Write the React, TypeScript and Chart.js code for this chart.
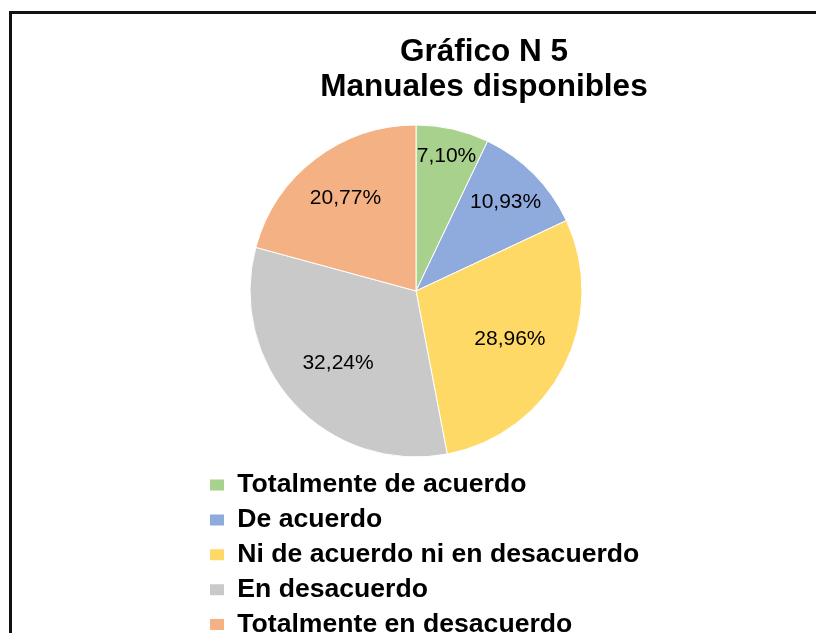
import React, { useEffect, useRef } from 'react';
import { Chart, registerables } from 'chart.js';

Chart.register(...registerables);

const categories = [
  'Totalmente de acuerdo',
  'De acuerdo',
  'Ni de acuerdo ni en desacuerdo',
  'En desacuerdo',
  'Totalmente en desacuerdo',
];
const percentages = [7.1, 10.93, 28.96, 32.24, 20.77];
const sliceColors = ['#A9D18E', '#8FAADC', '#FFD966', '#C9C9C9', '#F4B183'];
const titleLines = ['Gráfico N 5', 'Manuales disponibles'];

// styling: radial position of each value label (fraction of radius)
const labelRadiusFraction = [0.83, 0.76, 0.635, 0.64, 0.7];
const FONT = '"Liberation Sans", Arial, sans-serif';

const sliceLabels = {
  id: 'sliceLabels',
  afterDatasetsDraw(chart: any) {
    const meta = chart.getDatasetMeta(0);
    const ds = chart.data.datasets[0];
    const ctx = chart.ctx;
    ctx.save();
    ctx.font = '21px ' + FONT;
    ctx.fillStyle = '#000';
    ctx.textAlign = 'center';
    ctx.textBaseline = 'middle';
    meta.data.forEach((arc: any, i: number) => {
      const p = arc.getProps(['x', 'y', 'startAngle', 'endAngle', 'outerRadius'], true);
      const mid = (p.startAngle + p.endAngle) / 2;
      const r = p.outerRadius * labelRadiusFraction[i];
      const text = Number(ds.data[i]).toFixed(2).replace('.', ',') + '%';
      ctx.fillText(text, p.x + Math.cos(mid) * r, p.y + Math.sin(mid) * r);
    });
    ctx.restore();
  },
};

const placeBoxes = {
  id: 'placeBoxes',
  afterLayout(chart: any) {
    const t = chart.titleBlock;
    if (t) {
      const w = t.right - t.left;
      const cx = 484;
      t.left = cx - w / 2;
      t.right = cx + w / 2;
    }
    const lg = chart.legend;
    if (lg) {
      lg.left = 201.7;
      lg.top = 463.4;
      lg.width = 560;
      lg.height = 260;
      lg.right = lg.left + lg.width;
      lg.bottom = lg.top + lg.height;
    }
  },
};

export default function App() {
  const ref = useRef<HTMLCanvasElement | null>(null);

  useEffect(() => {
    if (!ref.current) return;
    const chart = new Chart(ref.current, {
      type: 'pie',
      data: {
        labels: categories,
        datasets: [
          {
            data: percentages,
            backgroundColor: sliceColors,
            borderColor: '#ffffff',
            borderWidth: 1,
          },
        ],
      },
      options: {
        responsive: false,
        animation: false,
        events: [],
        devicePixelRatio: 1,
        layout: { padding: { top: 0, left: 216, right: 200, bottom: 175.5 } },
        plugins: {
          tooltip: { enabled: false },
          title: {
            display: true,
            text: titleLines,
            color: '#000',
            font: { family: FONT, size: 31.5, weight: 'bold', lineHeight: 1.095 },
            padding: { top: 35.5, bottom: 20 },
          },
          legend: {
            display: true,
            position: 'chartArea',
            align: 'start',
            labels: {
              color: '#000',
              font: { family: FONT, size: 26.6, weight: 'bold' },
              boxWidth: 14,
              boxHeight: 11,
              padding: 8.3,
              generateLabels: (c: any) =>
                (Chart as any).overrides.doughnut.plugins.legend.labels
                  .generateLabels(c)
                  .map((l: any) => ({ ...l, lineWidth: 0 })),
            },
          },
        },
      } as any,
      plugins: [sliceLabels, placeBoxes],
    });
    return () => chart.destroy();
  }, []);

  return (
    <>
      <div
        style={{
          position: 'fixed',
          left: 9,
          top: 11,
          width: 1000,
          height: 1000,
          border: '3px solid #111',
          boxSizing: 'border-box',
          background: '#fff',
        }}
      />
      <div style={{ position: 'fixed', left: 0, top: 0, width: 816, height: 633 }}>
        <canvas ref={ref} width={816} height={633} style={{ display: 'block' }} />
      </div>
    </>
  );
}
